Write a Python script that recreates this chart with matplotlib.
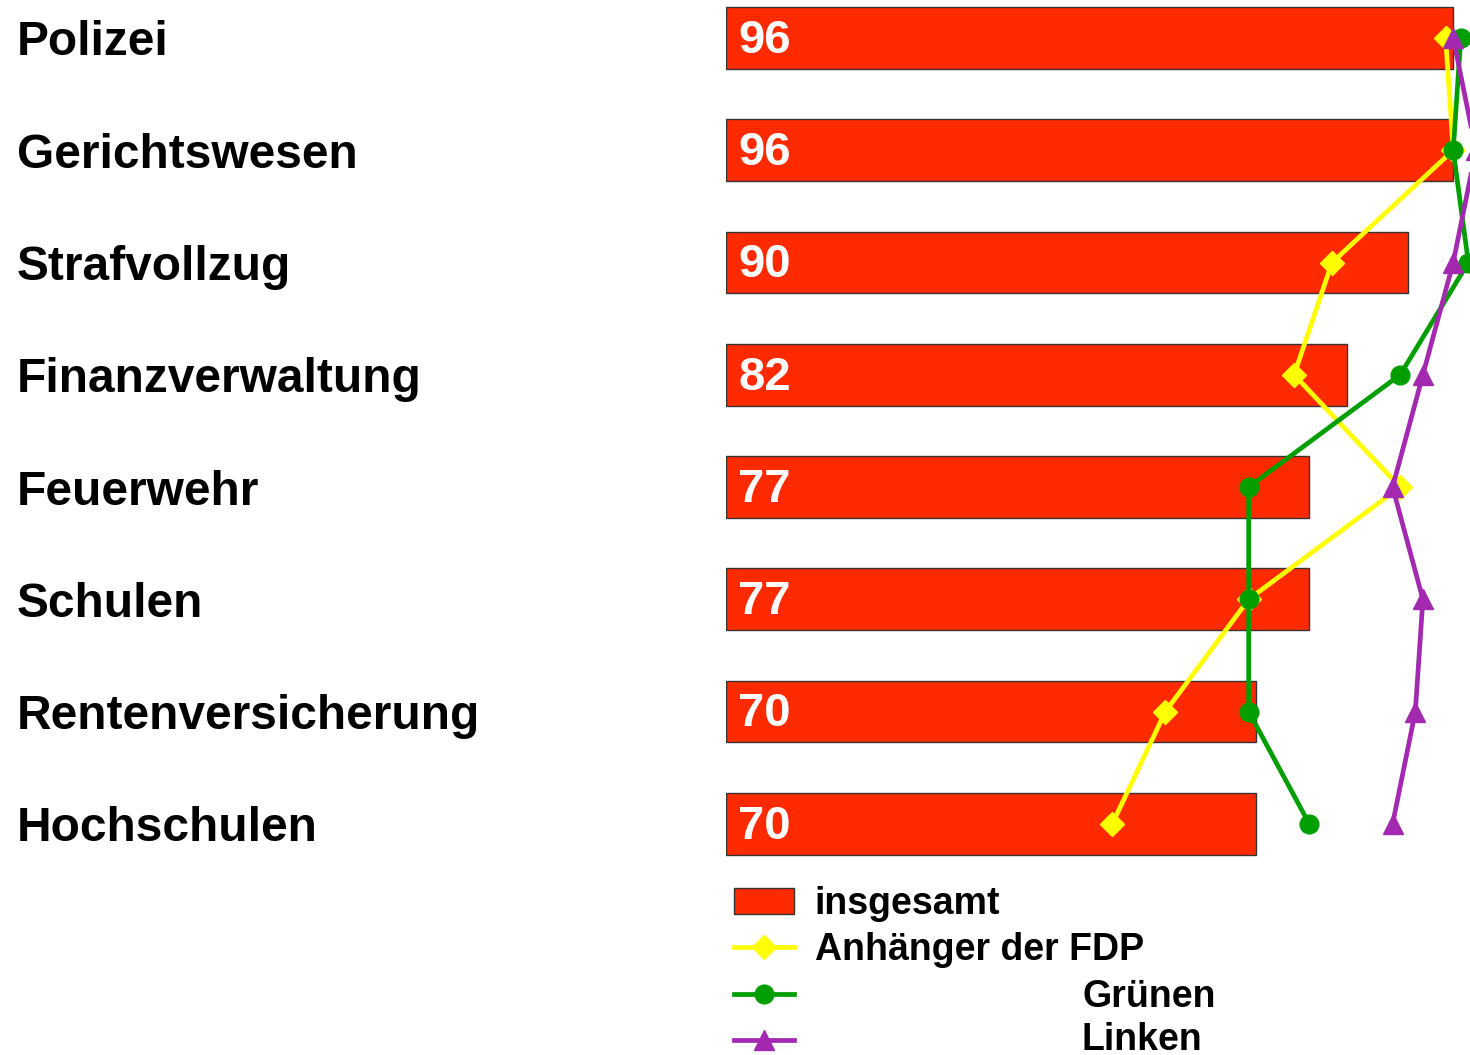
import matplotlib.pyplot as plt
from matplotlib.lines import Line2D
from matplotlib.patches import Patch

plt.rcParams['font.family'] = ['Liberation Sans', 'DejaVu Sans']
plt.rcParams['font.weight'] = 'bold'

categories = ["Polizei", "Gerichtswesen", "Strafvollzug", "Finanzverwaltung",
              "Feuerwehr", "Schulen", "Rentenversicherung", "Hochschulen"]
insgesamt = [96, 96, 90, 82, 77, 77, 70, 70]
fdp = [95, 96, 80, 75, 89, 69, 58, 51]
gruene = [97, 96, 98, 89, 69, 69, 69, 77]
linke = [96, 99, 96, 92, 88, 92, 91, 88]

red = "#FF2A00"
yellow = "#FFFF00"
green = "#009E00"
purple = "#A32AB0"

fig = plt.figure(figsize=(14.7, 10.55), dpi=100)
# axes spans from x=726px to the right edge, y from top to 880px
ax = fig.add_axes([726 / 1470, (1055 - 880) / 1055, (1470 - 726) / 1470, 880 / 1055])

pos = list(range(len(categories)))
ax.barh(pos, insgesamt, height=0.55, color=red, edgecolor="#333333", linewidth=1)
for i, v in enumerate(insgesamt):
    ax.annotate(str(v), (0, i), xytext=(9, -2), textcoords="offset points",
                ha="left", va="center", color="white", fontsize=34, fontweight="bold")

ax.plot(fdp, pos, color=yellow, lw=3.4, marker="D", ms=12)
ax.plot(gruene, pos, color=green, lw=3.4, marker="o", ms=13.5)
ax.plot(linke, pos, color=purple, lw=3.4, marker="^", ms=15)

ax.set_xlim(0, (1470 - 726) / 7.575)
ax.set_ylim(7.5, -38 / 112.3)
ax.set_xticks([])
ax.set_yticks(pos)
ax.set_yticklabels(categories, fontsize=34.5, fontweight="bold")
for lab in ax.get_yticklabels():
    lab.set_horizontalalignment("left")
ax.tick_params(axis="y", length=0, pad=(726 - 17) * 0.72)
for s in ax.spines.values():
    s.set_visible(False)

handles = [
    Patch(facecolor=red, edgecolor="#333333"),
    Line2D([], [], color=yellow, lw=3.4, marker="D", ms=12),
    Line2D([], [], color=green, lw=3.4, marker="o", ms=13.5),
    Line2D([], [], color=purple, lw=3.4, marker="^", ms=15),
]
labels = ["insgesamt", "Anhänger der FDP", "", ""]
fig.legend(handles, labels, loc="upper left", bbox_to_anchor=(734 / 1470, 1 - 886 / 1055),
           frameon=False, fontsize=27, handlelength=1.6, handleheight=0.7,
           handletextpad=0.55, labelspacing=0.28, borderaxespad=0, borderpad=0)
fig.text(1082 / 1470, 1 - 997 / 1055, "Grünen", fontsize=27, fontweight="bold", va="center")
fig.text(1082 / 1470, 1 - 1040 / 1055, "Linken", fontsize=27, fontweight="bold", va="center")

fig.savefig("out.png", dpi=100)
